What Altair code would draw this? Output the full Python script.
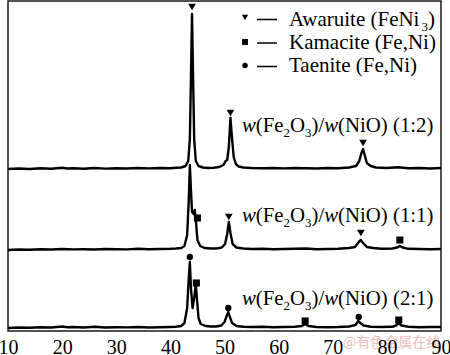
import altair as alt
import pandas as pd

# ---------------- data ----------------
# 2theta positions and intensities (above each pattern's own baseline)
theta_12 = [10, 12, 14, 16, 18, 20, 21, 22, 24, 26, 28, 30, 32, 34, 36, 38, 40, 41, 42, 42.8,
            43.3, 43.6, 43.8, 44.0, 44.2, 44.4, 44.7, 45.2, 46, 47, 48, 49, 49.8, 50.2, 50.5, 50.8,
            51.1, 51.4, 51.7, 52.1, 52.6, 53.5, 55, 57, 59, 61, 63, 65, 67, 69, 71, 73, 74.3, 74.9,
            75.3, 75.6, 75.9, 76.3, 77, 78, 80, 82, 84, 86, 88, 90]
rel_12 = [0, 0.5, 0, 0.8, 0.3, 1.2, 0.5, 0.8, 0.3, 1, 0.4, 0.8, 0.5, 1, 0.6, 1, 0.8, 1.2, 1.5, 3,
          8, 30, 90, 155, 90, 30, 8, 3, 1.5, 1, 1.2, 2, 4, 8, 9, 22, 51, 30, 12, 5,
          2.5, 1.5, 1, 0.8, 1, 0.6, 1, 0.8, 0.5, 1, 0.8, 1.5, 3, 8, 16, 20, 14, 6, 3, 1.5,
          1, 1.8, 0.8, 1, 0.5, 1]

theta_11 = [10, 12, 14, 16, 18, 20, 22, 24, 26, 28, 30, 32, 34, 36, 38, 40, 41, 42, 42.6, 43.1,
            43.4, 43.6, 43.8, 44.0, 44.3, 44.5, 44.7, 45.0, 45.5, 46.3, 47.5, 48.5, 49.5, 50.1,
            50.5, 50.8, 51.1, 51.5, 52.2, 53.5, 55, 57, 59, 61, 63, 65, 67, 69, 71, 73, 74.1,
            74.8, 75.2, 75.6, 76.3, 77.5, 79, 81, 81.9, 82.4, 82.9, 84, 86, 88, 90]
rel_11 = [0, 0.5, 0.3, 0.8, 0.5, 1, 0.6, 0.8, 0.5, 1, 0.8, 0.6, 1.2, 0.8, 1, 1.2, 1.5, 2, 4, 15,
          50, 85, 60, 38, 36, 40, 30, 10, 4, 2, 1.5, 1.5, 2.5, 6, 16, 28, 17, 6, 2.5, 1.5,
          1, 1.2, 0.8, 1, 1.2, 1.5, 0.8, 1, 1.2, 2, 3, 8, 10, 7, 3, 2, 1.2, 1.5, 2.5, 4,
          2.5, 1.2, 1, 0.8, 1]

theta_21 = [10, 12, 14, 16, 18, 20, 21, 22, 24, 26, 28, 30, 32, 34, 36, 38, 40, 41, 42, 42.6,
            43.1, 43.4, 43.6, 43.8, 44.1, 44.4, 44.7, 44.9, 45.2, 45.6, 46.5, 47.5, 48.5, 49.4,
            50.0, 50.4, 50.7, 51.0, 51.4, 52.2, 53.5, 55, 57, 59, 61, 63, 64.3, 64.9, 65.5, 67,
            69, 71, 73, 74.2, 74.7, 75.1, 75.7, 77, 79, 81, 81.7, 82.2, 82.7, 84, 86, 88, 90]
rel_21 = [0, 0.5, 0.3, 0.8, 0.5, 1.5, 0.8, 1, 0.5, 1.2, 0.5, 0.8, 0.6, 1, 0.5, 0.8, 1, 1.2, 2, 5,
          20, 50, 66, 40, 20, 30, 43, 30, 10, 4, 2, 1.5, 1.5, 2.5, 6, 12, 16, 11, 5, 2,
          1.2, 1, 1.2, 0.8, 1, 1.2, 2, 4, 2, 1, 0.8, 1, 1.5, 3, 7, 5, 2.5, 1.2, 1, 1.2,
          2.5, 5, 2.5, 1.2, 0.8, 1, 1]

series_names = ["1:2", "1:1", "2:1"]
series_offsets = [162, 81, 3]

# phase markers above the peaks
marker_theta = [44.0, 51.1, 75.6, 45.0, 50.8, 75.2, 82.4, 43.6, 44.8, 50.7, 64.9, 74.8, 82.2]
marker_level = [324, 218, 188, 113, 114, 98, 91, 74, 48, 23, 10, 14, 11]
marker_phase = ["Awaruite", "Awaruite", "Awaruite", "Kamacite", "Awaruite", "Awaruite", "Kamacite",
                "Taenite", "Kamacite", "Taenite", "Kamacite", "Taenite", "Kamacite"]

phases = ["Awaruite", "Kamacite", "Taenite"]
phase_shapes = ["triangle-down", "square", "circle"]
x_ticks = [10, 20, 30, 40, 50, 60, 70, 80, 90]

# ---------------- layout helpers ----------------
PX_LEFT, PLOT_W, PLOT_H, TOP = 8, 433, 330, 1
SERIF = "Liberation Serif"


def px2theta(px):
    return 10 + (px - PX_LEFT) * 80 / PLOT_W


def py2level(py):
    return PLOT_H + TOP - py


REG = {'A': 722, 'w': 722, 'a': 444, 'r': 333, 'u': 500, 'i': 278, 't': 278, 'e': 444, ' ': 250,
       '(': 333, ')': 333, 'F': 556, 'N': 722, 'K': 722, 'm': 778, 'c': 444, ',': 250, 'T': 611,
       'n': 500, 'O': 722, '/': 278, '1': 500, '2': 500, '3': 500, ':': 278}
ITAL = {'w': 667}

rows_n, rows_i = [], []


def place(x0, ybase, segs, fs):
    x = x0
    for txt, kind in segs:
        if kind == 's':
            size = fs * 0.62
            yb = ybase + fs * 0.22
            w = sum(REG[c] for c in txt) * size / 1000
            rows_n.append(dict(theta=px2theta(x), level=py2level(yb), text=txt, size=size))
        elif kind == 'i':
            size = fs
            w = sum(ITAL.get(c, REG[c]) for c in txt) * size / 1000
            rows_i.append(dict(theta=px2theta(x), level=py2level(ybase), text=txt, size=size))
        else:
            size = fs
            w = sum(REG[c] for c in txt) * size / 1000
            rows_n.append(dict(theta=px2theta(x), level=py2level(ybase), text=txt, size=size))
        x += w


LABEL_FS = 20.8
for name, yb in zip(series_names, [132, 222, 305]):
    place(242, yb, [("w", "i"), ("(Fe", "n"), ("2", "s"), ("O", "n"), ("3", "s"), (")/", "n"),
                    ("w", "i"), ("(NiO) (" + name + ")", "n")], LABEL_FS)

LEG_FS = 21
legend_texts = [[("Awaruite (FeNi", "n"), ("3", "s"), (")", "n")],
                [("Kamacite (Fe,Ni)", "n")],
                [("Taenite (Fe,Ni)", "n")]]
for segs, yb in zip(legend_texts, [26, 49, 72]):
    place(289, yb, segs, LEG_FS)

# ---------------- data frames ----------------
frames = []
for name, off, th, rel in zip(series_names, series_offsets,
                              [theta_12, theta_11, theta_21], [rel_12, rel_11, rel_21]):
    frames.append(pd.DataFrame({"theta": th, "level": [off + r for r in rel], "series": name}))
curves = pd.concat(frames, ignore_index=True)

markers = pd.DataFrame({"theta": marker_theta, "level": marker_level, "phase": marker_phase})

legend_sym = pd.DataFrame({"theta": [px2theta(245)] * 3,
                           "level": [py2level(y) for y in [17.5, 42, 65.5]],
                           "phase": phases})
legend_dash = pd.DataFrame({"theta": [px2theta(257)] * 3, "theta2": [px2theta(277)] * 3,
                            "level": [py2level(y) for y in [19.5, 43, 66.5]]})

text_n = pd.DataFrame(rows_n)
text_i = pd.DataFrame(rows_i)
watermark = pd.DataFrame({"theta": [px2theta(343)], "level": [py2level(343)], "text": ["@有色金属在线"]})

# ---------------- chart ----------------
xscale = alt.Scale(domain=[10, 90], nice=False, zero=False)
yscale = alt.Scale(domain=[0, PLOT_H], nice=False, zero=False)
X = alt.X("theta:Q", scale=xscale,
          axis=alt.Axis(values=x_ticks, title=None, grid=False, domain=False, ticks=False,
                        tickSize=0, labelPadding=6, labelFont=SERIF,
                        labelFontSize=20, labelColor="black", labelFlush=False,
                        labelOverlap=False, zindex=2))
Y = alt.Y("level:Q", scale=yscale, axis=None)

wm = alt.Chart(watermark).mark_text(align="left", baseline="middle", font="Noto Sans CJK SC",
                                    fontSize=14, color="#e8a0a0", opacity=0.7).encode(
    x=X, y=Y, text="text:N")

lines = alt.Chart(curves).mark_line(color="black", strokeWidth=2.4, strokeJoin="round").encode(
    x=X, y=Y, detail="series:N", order="theta:Q")

shape_scale = alt.Scale(domain=phases, range=phase_shapes)
pts = alt.Chart(markers).mark_point(filled=True, color="black", opacity=1).encode(
    x=X, y=Y,
    shape=alt.Shape("phase:N", scale=shape_scale, legend=None),
    size=alt.Size("phase:N", scale=alt.Scale(domain=phases, range=[60, 40, 40]), legend=None))

leg_pts = alt.Chart(legend_sym).mark_point(filled=True, color="black", opacity=1).encode(
    x=X, y=Y,
    shape=alt.Shape("phase:N", scale=shape_scale, legend=None),
    size=alt.Size("phase:N", scale=alt.Scale(domain=phases, range=[40, 30, 25]), legend=None))

leg_dash = alt.Chart(legend_dash).mark_rule(color="black", strokeWidth=1.5).encode(
    x=X, x2="theta2:Q", y=Y)

txt_n = alt.Chart(text_n).mark_text(align="left", baseline="alphabetic", font=SERIF,
                                    color="black").encode(
    x=X, y=Y, text="text:N", size=alt.Size("size:Q", scale=None, legend=None))
txt_i = alt.Chart(text_i).mark_text(align="left", baseline="alphabetic", font=SERIF,
                                    fontStyle="italic", color="black").encode(
    x=X, y=Y, text="text:N", size=alt.Size("size:Q", scale=None, legend=None))

chart = alt.layer(wm, lines, pts, leg_pts, leg_dash, txt_n, txt_i).resolve_scale(
    size="independent").properties(
    width=PLOT_W, height=PLOT_H, autosize="none",
    padding={"left": PX_LEFT, "top": TOP, "right": 450 - PX_LEFT - PLOT_W, "bottom": 355 - TOP - PLOT_H},
    background="white"
).configure_view(stroke="#1a1a1a", strokeWidth=1.5)

chart.save("out.html", embed_options={"renderer": "svg", "actions": False})
